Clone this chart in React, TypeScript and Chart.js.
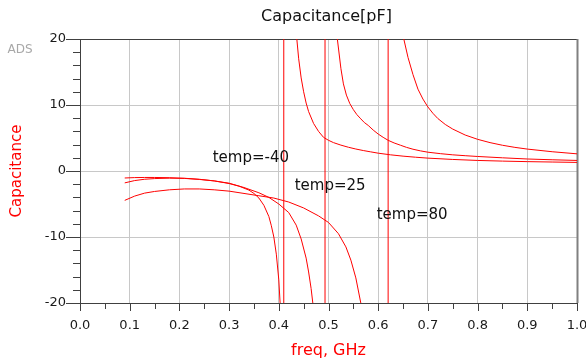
import React, { useEffect, useRef } from 'react';
import { Chart, registerables } from 'chart.js';

Chart.register(...registerables);

// ---- data ----
const seriesNames = ['temp=-40', 'temp=25', 'temp=80'];

const freqA = [0.09, 0.11, 0.13, 0.15, 0.18, 0.21, 0.24, 0.27, 0.30, 0.32, 0.34, 0.35, 0.36, 0.37, 0.38, 0.385, 0.39, 0.395, 0.40, 0.403, 0.406, 0.41,
  0.41, 0.42, 0.43, 0.435, 0.44, 0.445, 0.45, 0.455, 0.46, 0.47, 0.48, 0.49, 0.50, 0.51, 0.525, 0.54, 0.555, 0.57, 0.585, 0.60, 0.625, 0.65, 0.675, 0.70, 0.75, 0.80, 0.85, 0.90, 0.95, 1.0];
const capA = [-1.06, -1.0, -0.98, -0.98, -1.02, -1.12, -1.28, -1.5, -1.9, -2.3, -2.9, -3.4, -4.1, -5.2, -6.9, -8.3, -10.0, -12.6, -16.5, -20.5, -28, -300,
  300, 70, 29, 21, 17, 14.1, 12, 10.3, 9, 7.2, 6.0, 5.1, 4.65, 4.3, 3.92, 3.6, 3.33, 3.1, 2.9, 2.7, 2.45, 2.25, 2.09, 1.95, 1.75, 1.6, 1.5, 1.42, 1.36, 1.3];

const freqB = [0.09, 0.11, 0.13, 0.15, 0.18, 0.21, 0.24, 0.27, 0.30, 0.33, 0.36, 0.38, 0.40, 0.42, 0.435, 0.445, 0.455, 0.46, 0.465, 0.47, 0.475, 0.48, 0.493,
  0.493, 0.50, 0.51, 0.517, 0.525, 0.53, 0.536, 0.543, 0.55, 0.557, 0.565, 0.572, 0.58, 0.59, 0.60, 0.61, 0.62, 0.632, 0.645, 0.657, 0.67, 0.685, 0.70, 0.725, 0.75, 0.775, 0.80, 0.85, 0.90, 0.95, 1.0];
const capB = [-1.8, -1.45, -1.25, -1.15, -1.08, -1.1, -1.25, -1.5, -1.85, -2.5, -3.3, -4.0, -5.0, -6.3, -8.2, -10.3, -13.2, -15.3, -17.8, -21, -26, -35, -300,
  300, 90, 30, 20.5, 15.5, 13.2, 11.5, 10.2, 9.3, 8.55, 7.9, 7.35, 6.9, 6.2, 5.6, 5.1, 4.65, 4.25, 3.9, 3.58, 3.3, 3.05, 2.85, 2.63, 2.45, 2.32, 2.2, 2.0, 1.82, 1.7, 1.6];

const freqC = [0.09, 0.11, 0.13, 0.15, 0.18, 0.21, 0.24, 0.27, 0.30, 0.33, 0.36, 0.39, 0.42, 0.45, 0.48, 0.50, 0.52, 0.535, 0.545, 0.555, 0.565, 0.575, 0.59, 0.62,
  0.62, 0.63, 0.64, 0.65, 0.66, 0.67, 0.68, 0.69, 0.70, 0.71, 0.72, 0.735, 0.75, 0.775, 0.80, 0.825, 0.85, 0.875, 0.90, 0.95, 1.0];
const capC = [-4.45, -3.8, -3.35, -3.1, -2.85, -2.72, -2.72, -2.85, -3.05, -3.4, -3.75, -4.1, -4.7, -5.6, -6.8, -7.8, -9.5, -11.5, -13.5, -16.2, -20, -27, -45, -300,
  300, 70, 30, 20.5, 17.2, 14.6, 12.4, 10.9, 9.7, 8.75, 7.95, 7.05, 6.35, 5.45, 4.8, 4.3, 3.9, 3.58, 3.32, 2.92, 2.6];

// label anchors (data coordinates, left / baseline)
const labelFreq = [0.267, 0.432, 0.597];
const labelCap = [1.4, -2.9, -7.2];

// axes
const xTicks = [0.0, 0.1, 0.2, 0.3, 0.4, 0.5, 0.6, 0.7, 0.8, 0.9, 1.0];
const yTicks = [-20, -10, 0, 10, 20];
const xTickMarks = [0, 0.05, 0.1, 0.15, 0.2, 0.25, 0.3, 0.35, 0.4, 0.45, 0.5, 0.55, 0.6, 0.65, 0.7, 0.75, 0.8, 0.85, 0.9, 0.95, 1.0];
const yTickMarks = [-20, -18, -16, -14, -12, -10, -8, -6, -4, -2, 0, 2, 4, 6, 8, 10, 12, 14, 16, 18, 20];

const FONT = "'DejaVu Sans', sans-serif";
const RED = '#ff0000';

const toPoints = (xs: number[], ys: number[]) => xs.map((x, i) => ({ x, y: ys[i] }));

const decorPlugin = {
  id: 'decor',
  beforeDatasetsDraw(chart: any) {
    const { ctx, chartArea: a, scales } = chart;
    const xs = scales.x;
    const ys = scales.y;
    ctx.save();
    ctx.strokeStyle = '#404040';
    ctx.lineWidth = 1;
    ctx.beginPath();
    ctx.moveTo(a.left, Math.round(a.top) + 0.5);
    ctx.lineTo(a.right, Math.round(a.top) + 0.5);
    ctx.stroke();
    yTickMarks.forEach((v) => {
      const p = Math.round(ys.getPixelForValue(v)) + 0.5;
      const len = v % 10 === 0 ? 14 : 7;
      ctx.beginPath();
      ctx.moveTo(a.left - len, p);
      ctx.lineTo(a.left, p);
      ctx.stroke();
    });
    xTickMarks.forEach((v, i) => {
      const p = Math.round(xs.getPixelForValue(v)) + 0.5;
      const len = i % 2 === 0 ? 8 : 6;
      ctx.beginPath();
      ctx.moveTo(p, a.bottom);
      ctx.lineTo(p, a.bottom + len);
      ctx.stroke();
    });
    ctx.strokeStyle = '#808080';
    ctx.lineWidth = 2;
    ctx.beginPath();
    ctx.moveTo(a.right + 0.5, a.top);
    ctx.lineTo(a.right + 0.5, a.bottom);
    ctx.stroke();
    ctx.restore();
  },
  afterDraw(chart: any) {
    const { ctx, chartArea: a, scales } = chart;
    ctx.save();
    ctx.fillStyle = '#111111';
    ctx.font = `16px ${FONT}`;
    ctx.textAlign = 'center';
    ctx.textBaseline = 'middle';
    ctx.fillText('Capacitance[pF]', (a.left + a.right) / 2 - 2, 16.5);
    ctx.fillStyle = '#a8a8a8';
    ctx.font = `12px ${FONT}`;
    ctx.textAlign = 'left';
    ctx.textBaseline = 'alphabetic';
    ctx.fillText('ADS', 7.5, 52.5);
    ctx.fillStyle = '#111111';
    ctx.font = `15px ${FONT}`;
    seriesNames.forEach((name, i) => {
      ctx.fillText(name, scales.x.getPixelForValue(labelFreq[i]), scales.y.getPixelForValue(labelCap[i]));
    });
    ctx.restore();
  },
};

export default function App() {
  const ref = useRef<HTMLCanvasElement | null>(null);

  useEffect(() => {
    if (!ref.current) return;
    const mk = (i: number, xs: number[], ys: number[]) => ({
      label: seriesNames[i],
      data: toPoints(xs, ys),
      showLine: true,
      borderColor: RED,
      backgroundColor: RED,
      borderWidth: 1,
      pointRadius: 0,
      tension: 0,
      fill: false,
    });
    const chart = new Chart(ref.current, {
      type: 'scatter',
      data: {
        datasets: [mk(0, freqA, capA), mk(1, freqB, capB), mk(2, freqC, capC)],
      },
      plugins: [decorPlugin],
      options: {
        responsive: false,
        animation: false,
        devicePixelRatio: 1,
        layout: { padding: { top: 39, right: 9, bottom: 0, left: 0 } },
        plugins: {
          legend: { display: false },
          tooltip: { enabled: false },
          title: { display: false },
        },
        scales: {
          x: {
            type: 'linear',
            position: 'bottom',
            min: 0,
            max: 1,
            afterBuildTicks: (s: any) => {
              s.ticks = xTicks.map((v) => ({ value: v }));
            },
            afterFit: (s: any) => {
              s.height = 57;
              s.paddingLeft = 0;
              s.paddingRight = 0;
            },
            ticks: {
              autoSkip: false,
              maxRotation: 0,
              padding: 15,
              color: '#1a1a1a',
              font: { family: FONT, size: 13 },
              callback: (v: any) => Number(v).toFixed(1),
            },
            grid: { color: '#c8c8c8', drawTicks: false, lineWidth: 1 },
            border: { display: true, color: '#404040', width: 1 },
            title: {
              display: true,
              text: 'freq, GHz',
              color: RED,
              font: { family: FONT, size: 16 },
              padding: { top: 0, bottom: 0 },
            },
          },
          y: {
            type: 'linear',
            position: 'left',
            min: -20,
            max: 20,
            afterBuildTicks: (s: any) => {
              s.ticks = yTicks.map((v) => ({ value: v }));
            },
            afterFit: (s: any) => {
              s.width = 80;
              s.paddingTop = 0;
              s.paddingBottom = 0;
            },
            ticks: {
              autoSkip: false,
              padding: 14,
              color: '#1a1a1a',
              font: { family: FONT, size: 13 },
              callback: (v: any) => String(v),
            },
            grid: { color: '#c8c8c8', drawTicks: false, lineWidth: 1 },
            border: { display: true, color: '#404040', width: 1 },
            title: {
              display: true,
              text: 'Capacitance',
              color: RED,
              font: { family: FONT, size: 15 },
              padding: { top: 8, bottom: 0 },
            },
          },
        },
      },
    } as any);
    return () => chart.destroy();
  }, []);

  return (
    <div style={{ position: 'fixed', left: 0, top: 0, width: 586, height: 360, background: '#ffffff' }}>
      <canvas ref={ref} width={586} height={360} style={{ display: 'block', width: 586, height: 360 }} />
    </div>
  );
}
